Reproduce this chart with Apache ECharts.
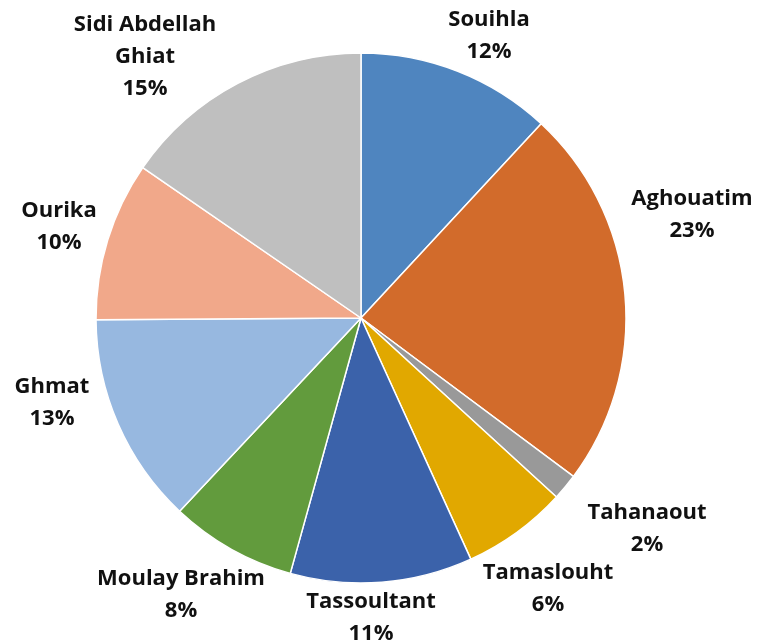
<!DOCTYPE html>
<html>
<head>
<meta charset="utf-8">
<script src="https://cdn.jsdelivr.net/npm/echarts@6/dist/echarts.min.js"></script>
<style>
  html, body { margin: 0; padding: 0; background: #fff; }
  #chart { width: 757px; height: 643px; }
</style>
</head>
<body>
<div id="chart"></div>
<script>
// communes, clockwise from 12 o'clock
let names = ['Souihla', 'Aghouatim', 'Tahanaout', 'Tamaslouht', 'Tassoultant',
    'Moulay Brahim', 'Ghmat', 'Ourika', 'Sidi Abdellah\nGhiat'];
// share of total (%)
let shares = [11.9, 23.3, 1.6, 6.4, 11.1, 7.7, 12.9, 9.7, 15.4];
let colors = ['#4f85bf', '#d26b2b', '#999999', '#e1a800', '#3b62aa',
    '#629b3d', '#97b8e0', '#f1a88a', '#bfbfbf'];

// where each data label sits (centre of the text block)
let labelPos = [[489, 36], [692, 215], [647, 529], [548, 589], [371, 618],
    [181, 595], [52, 403], [59, 227], [145, 57]];

let chart = echarts.init(document.getElementById('chart'));
chart.setOption({
    animation: false,
    series: [
        {
            type: 'pie',
            center: [361, 318],
            radius: 265,
            startAngle: 90,
            clockwise: true,
            itemStyle: { borderColor: '#fff', borderWidth: 1.5 },
            label: {
                show: true,
                position: 'outside',
                formatter: p => p.name + '\n' + Math.round(p.percent) + '%',
                fontFamily: 'Open Sans',
                fontWeight: 'bold',
                fontSize: 22,
                lineHeight: 32,
                color: '#111',
                align: 'center',
                overflow: 'none'
            },
            labelLine: { show: false },
            labelLayout: params => ({
                x: labelPos[params.dataIndex][0],
                y: labelPos[params.dataIndex][1],
                align: 'center',
                verticalAlign: 'middle'
            }),
            data: names.map((n, i) => {
                return { name: n, value: shares[i], itemStyle: { color: colors[i] } }
            })
        }
    ]
});
</script>
</body>
</html>
